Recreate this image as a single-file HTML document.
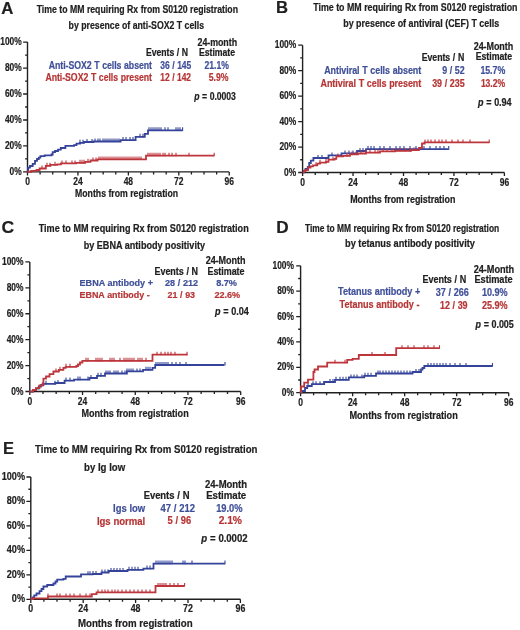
<!DOCTYPE html>
<html><head><meta charset="utf-8"><title>Figure</title>
<style>
html,body{margin:0;padding:0;background:#ffffff;}
body{width:520px;height:630px;overflow:hidden;}
svg{display:block;font-family:"Liberation Sans", sans-serif;filter:blur(0.3px);}
text{stroke:currentColor;stroke-width:0.2px;paint-order:stroke;}
</style></head>
<body>
<svg width="520" height="630" viewBox="0 0 520 630">
<rect width="520" height="630" fill="#ffffff"/>
<text x="1.30" y="13.50" font-size="16.5" fill="#202020" color="#202020" font-weight="bold" textLength="12.10" lengthAdjust="spacingAndGlyphs">A</text>
<text x="36.70" y="12.70" font-size="10.4" fill="#202020" color="#202020" font-weight="bold" textLength="201.30" lengthAdjust="spacingAndGlyphs">Time to MM requiring Rx from S0120 registration</text>
<text x="68.60" y="28.90" font-size="10.4" fill="#202020" color="#202020" font-weight="bold" textLength="135.40" lengthAdjust="spacingAndGlyphs">by presence of anti-SOX2 T cells</text>
<text x="197.50" y="45.50" font-size="10.0" fill="#202020" color="#202020" font-weight="bold" letter-spacing="-0.05" word-spacing="0.3" textLength="39.50" lengthAdjust="spacingAndGlyphs">24-month</text>
<text x="146.00" y="55.50" font-size="10.0" fill="#202020" color="#202020" font-weight="bold" letter-spacing="-0.05" word-spacing="0.3" textLength="42.00" lengthAdjust="spacingAndGlyphs">Events / N</text>
<text x="199.00" y="55.50" font-size="10.0" fill="#202020" color="#202020" font-weight="bold" letter-spacing="-0.05" word-spacing="0.3" textLength="36.00" lengthAdjust="spacingAndGlyphs">Estimate</text>
<text x="48.70" y="69.20" font-size="10.0" fill="#3f4f98" color="#3f4f98" font-weight="bold" letter-spacing="-0.05" word-spacing="0.3" textLength="103.30" lengthAdjust="spacingAndGlyphs">Anti-SOX2 T cells absent</text>
<text x="45.40" y="81.20" font-size="10.0" fill="#b63434" color="#b63434" font-weight="bold" letter-spacing="-0.05" word-spacing="0.3" textLength="106.60" lengthAdjust="spacingAndGlyphs">Anti-SOX2 T cells present</text>
<text x="160.30" y="69.00" font-size="10.0" fill="#3f4f98" color="#3f4f98" font-weight="bold" letter-spacing="-0.05" word-spacing="0.3" textLength="30.90" lengthAdjust="spacingAndGlyphs">36 / 145</text>
<text x="160.30" y="81.20" font-size="10.0" fill="#b63434" color="#b63434" font-weight="bold" letter-spacing="-0.05" word-spacing="0.3" textLength="30.70" lengthAdjust="spacingAndGlyphs">12 / 142</text>
<text x="204.60" y="69.00" font-size="10.0" fill="#3f4f98" color="#3f4f98" font-weight="bold" letter-spacing="-0.05" word-spacing="0.3" textLength="24.20" lengthAdjust="spacingAndGlyphs">21.1%</text>
<text x="208.80" y="81.20" font-size="10.0" fill="#b63434" color="#b63434" font-weight="bold" letter-spacing="-0.05" word-spacing="0.3" textLength="19.60" lengthAdjust="spacingAndGlyphs">5.9%</text>
<text x="194.20" y="100.00" font-size="10.0" fill="#202020" color="#202020" font-weight="bold" letter-spacing="-0.05" word-spacing="0.3" textLength="41.60" lengthAdjust="spacingAndGlyphs"><tspan font-style="italic">p</tspan> = 0.0003</text>
<path d="M27.50 42.10 V171.90 H229.25" stroke="#202020" stroke-width="1.4" fill="none"/>
<path d="M23.10 171.90H27.50M25.10 158.92H27.50M23.10 145.94H27.50M25.10 132.96H27.50M23.10 119.98H27.50M25.10 107.00H27.50M23.10 94.02H27.50M25.10 81.04H27.50M23.10 68.06H27.50M25.10 55.08H27.50M23.10 42.10H27.50M27.50 171.90V175.50M40.11 171.90V174.40M52.72 171.90V174.40M65.33 171.90V174.40M77.94 171.90V175.50M90.55 171.90V174.40M103.16 171.90V174.40M115.77 171.90V174.40M128.38 171.90V175.50M140.98 171.90V174.40M153.59 171.90V174.40M166.20 171.90V174.40M178.81 171.90V175.50M191.42 171.90V174.40M204.03 171.90V174.40M216.64 171.90V174.40M229.25 171.90V175.50" stroke="#202020" stroke-width="1.3" fill="none"/>
<text x="9.56" y="174.90" font-size="10.2" fill="#202020" color="#202020" font-weight="bold" textLength="12.14" lengthAdjust="spacingAndGlyphs">0%</text>
<text x="4.89" y="148.94" font-size="10.2" fill="#202020" color="#202020" font-weight="bold" textLength="16.81" lengthAdjust="spacingAndGlyphs">20%</text>
<text x="4.89" y="122.98" font-size="10.2" fill="#202020" color="#202020" font-weight="bold" textLength="16.81" lengthAdjust="spacingAndGlyphs">40%</text>
<text x="4.89" y="97.02" font-size="10.2" fill="#202020" color="#202020" font-weight="bold" textLength="16.81" lengthAdjust="spacingAndGlyphs">60%</text>
<text x="4.89" y="71.06" font-size="10.2" fill="#202020" color="#202020" font-weight="bold" textLength="16.81" lengthAdjust="spacingAndGlyphs">80%</text>
<text x="0.22" y="45.10" font-size="10.2" fill="#202020" color="#202020" font-weight="bold" textLength="21.48" lengthAdjust="spacingAndGlyphs">100%</text>
<text x="25.14" y="184.90" font-size="10.2" fill="#202020" color="#202020" font-weight="bold" textLength="4.73" lengthAdjust="spacingAndGlyphs">0</text>
<text x="73.21" y="184.90" font-size="10.2" fill="#202020" color="#202020" font-weight="bold" textLength="9.45" lengthAdjust="spacingAndGlyphs">24</text>
<text x="123.65" y="184.90" font-size="10.2" fill="#202020" color="#202020" font-weight="bold" textLength="9.45" lengthAdjust="spacingAndGlyphs">48</text>
<text x="174.09" y="184.90" font-size="10.2" fill="#202020" color="#202020" font-weight="bold" textLength="9.45" lengthAdjust="spacingAndGlyphs">72</text>
<text x="224.52" y="184.90" font-size="10.2" fill="#202020" color="#202020" font-weight="bold" textLength="9.45" lengthAdjust="spacingAndGlyphs">96</text>
<path d="M27.30 171.75H28.10V167.70H30.00V166.00H32.70V163.80H35.00V160.80H37.00V159.00H38.80V157.70H40.40V156.20H44.60V155.30H51.50V154.50H52.70V152.20H55.00V151.00H58.00V149.60H60.80V148.00H65.40V145.90H74.00V145.20H76.50V143.60H80.00V142.80H84.00V142.00H93.50V141.50H120.60V140.10H135.60V136.80H144.80V133.80H148.00V130.30H182.60" stroke="#35449a" stroke-width="1.8" fill="none"/>
<path d="M80.00 139.80V143.40M83.00 139.80V143.40M87.00 139.00V142.60M92.00 139.00V142.60M95.00 138.50V142.10M98.00 138.50V142.10M100.00 138.50V142.10M103.00 138.50V142.10M105.00 138.50V142.10M107.00 138.50V142.10M109.00 138.50V142.10M111.00 138.50V142.10M113.00 138.50V142.10M115.00 138.50V142.10M117.00 138.50V142.10M119.00 138.50V142.10M123.00 137.10V140.70M126.00 137.10V140.70M130.00 137.10V140.70M133.00 137.10V140.70M140.00 133.80V137.40M143.00 133.80V137.40M149.00 127.30V130.90M151.00 127.30V130.90M153.00 127.30V130.90M155.00 127.30V130.90M157.00 127.30V130.90M159.00 127.30V130.90M161.00 127.30V130.90M165.00 127.30V130.90M168.00 127.30V130.90M176.00 127.30V130.90M178.00 127.30V130.90M180.00 127.30V130.90M182.60 127.30V130.90" stroke="#35449a" stroke-width="1.1" fill="none"/>
<path d="M27.30 171.75H31.20V170.80H36.50V170.00H39.60V168.50H45.80V165.80H50.40V164.80H57.30V164.30H61.00V163.40H76.00V162.80H85.20V161.80H90.50V160.50H97.50V159.40H146.00V155.70H214.20" stroke="#bd363c" stroke-width="1.8" fill="none"/>
<path d="M42.00 165.50V169.10M47.00 162.80V166.40M50.00 162.80V166.40M55.00 161.80V165.40M62.00 160.40V164.00M66.00 160.40V164.00M72.00 160.40V164.00M75.00 160.40V164.00M80.00 159.80V163.40M82.00 159.80V163.40M84.00 159.80V163.40M88.00 158.80V162.40M93.00 157.50V161.10M96.00 157.50V161.10M99.00 156.40V160.00M101.00 156.40V160.00M103.00 156.40V160.00M105.00 156.40V160.00M107.00 156.40V160.00M109.00 156.40V160.00M111.00 156.40V160.00M113.00 156.40V160.00M115.00 156.40V160.00M117.00 156.40V160.00M119.00 156.40V160.00M121.00 156.40V160.00M123.00 156.40V160.00M125.00 156.40V160.00M127.00 156.40V160.00M129.00 156.40V160.00M131.00 156.40V160.00M133.00 156.40V160.00M135.00 156.40V160.00M137.00 156.40V160.00M139.00 156.40V160.00M141.00 156.40V160.00M148.00 152.70V156.30M150.00 152.70V156.30M152.00 152.70V156.30M154.00 152.70V156.30M156.00 152.70V156.30M158.00 152.70V156.30M160.00 152.70V156.30M163.00 152.70V156.30M165.00 152.70V156.30M169.00 152.70V156.30M172.00 152.70V156.30M176.00 152.70V156.30M189.00 152.70V156.30M214.20 152.70V156.30" stroke="#bd363c" stroke-width="1.1" fill="none"/>
<text x="276.00" y="13.30" font-size="16.5" fill="#202020" color="#202020" font-weight="bold" textLength="12.00" lengthAdjust="spacingAndGlyphs">B</text>
<text x="313.20" y="10.50" font-size="10.4" fill="#202020" color="#202020" font-weight="bold" textLength="204.30" lengthAdjust="spacingAndGlyphs">Time to MM requiring Rx from S0120 registration</text>
<text x="343.20" y="26.90" font-size="10.4" fill="#202020" color="#202020" font-weight="bold" textLength="156.00" lengthAdjust="spacingAndGlyphs">by presence of antiviral (CEF) T cells</text>
<text x="473.70" y="50.40" font-size="10.0" fill="#202020" color="#202020" font-weight="bold" letter-spacing="-0.05" word-spacing="0.3" textLength="39.50" lengthAdjust="spacingAndGlyphs">24-Month</text>
<text x="421.70" y="60.50" font-size="10.0" fill="#202020" color="#202020" font-weight="bold" letter-spacing="-0.05" word-spacing="0.3" textLength="42.50" lengthAdjust="spacingAndGlyphs">Events / N</text>
<text x="475.70" y="60.00" font-size="10.0" fill="#202020" color="#202020" font-weight="bold" letter-spacing="-0.05" word-spacing="0.3" textLength="36.30" lengthAdjust="spacingAndGlyphs">Estimate</text>
<text x="324.20" y="73.80" font-size="10.0" fill="#3f4f98" color="#3f4f98" font-weight="bold" letter-spacing="-0.05" word-spacing="0.3" textLength="97.00" lengthAdjust="spacingAndGlyphs">Antiviral T cells absent</text>
<text x="320.50" y="86.60" font-size="10.0" fill="#b63434" color="#b63434" font-weight="bold" letter-spacing="-0.05" word-spacing="0.3" textLength="100.70" lengthAdjust="spacingAndGlyphs">Antiviral T cells present</text>
<text x="442.20" y="74.00" font-size="10.0" fill="#3f4f98" color="#3f4f98" font-weight="bold" letter-spacing="-0.05" word-spacing="0.3" textLength="22.40" lengthAdjust="spacingAndGlyphs">9 / 52</text>
<text x="432.20" y="86.70" font-size="10.0" fill="#b63434" color="#b63434" font-weight="bold" letter-spacing="-0.05" word-spacing="0.3" textLength="32.40" lengthAdjust="spacingAndGlyphs">39 / 235</text>
<text x="480.40" y="74.00" font-size="10.0" fill="#3f4f98" color="#3f4f98" font-weight="bold" letter-spacing="-0.05" word-spacing="0.3" textLength="24.80" lengthAdjust="spacingAndGlyphs">15.7%</text>
<text x="480.90" y="86.70" font-size="10.0" fill="#b63434" color="#b63434" font-weight="bold" letter-spacing="-0.05" word-spacing="0.3" textLength="24.10" lengthAdjust="spacingAndGlyphs">13.2%</text>
<text x="478.10" y="105.50" font-size="10.0" fill="#202020" color="#202020" font-weight="bold" letter-spacing="-0.05" word-spacing="0.3" textLength="33.40" lengthAdjust="spacingAndGlyphs"><tspan font-style="italic">p</tspan> = 0.94</text>
<path d="M302.60 45.20 V172.50 H504.40" stroke="#202020" stroke-width="1.4" fill="none"/>
<path d="M298.20 172.50H302.60M300.20 159.77H302.60M298.20 147.04H302.60M300.20 134.31H302.60M298.20 121.58H302.60M300.20 108.85H302.60M298.20 96.12H302.60M300.20 83.39H302.60M298.20 70.66H302.60M300.20 57.93H302.60M298.20 45.20H302.60M302.60 172.50V176.10M315.21 172.50V175.00M327.83 172.50V175.00M340.44 172.50V175.00M353.05 172.50V176.10M365.66 172.50V175.00M378.27 172.50V175.00M390.89 172.50V175.00M403.50 172.50V176.10M416.11 172.50V175.00M428.73 172.50V175.00M441.34 172.50V175.00M453.95 172.50V176.10M466.56 172.50V175.00M479.17 172.50V175.00M491.79 172.50V175.00M504.40 172.50V176.10" stroke="#202020" stroke-width="1.3" fill="none"/>
<text x="284.06" y="175.50" font-size="10.2" fill="#202020" color="#202020" font-weight="bold" textLength="12.14" lengthAdjust="spacingAndGlyphs">0%</text>
<text x="279.39" y="150.04" font-size="10.2" fill="#202020" color="#202020" font-weight="bold" textLength="16.81" lengthAdjust="spacingAndGlyphs">20%</text>
<text x="279.39" y="124.58" font-size="10.2" fill="#202020" color="#202020" font-weight="bold" textLength="16.81" lengthAdjust="spacingAndGlyphs">40%</text>
<text x="279.39" y="99.12" font-size="10.2" fill="#202020" color="#202020" font-weight="bold" textLength="16.81" lengthAdjust="spacingAndGlyphs">60%</text>
<text x="279.39" y="73.66" font-size="10.2" fill="#202020" color="#202020" font-weight="bold" textLength="16.81" lengthAdjust="spacingAndGlyphs">80%</text>
<text x="274.72" y="48.20" font-size="10.2" fill="#202020" color="#202020" font-weight="bold" textLength="21.48" lengthAdjust="spacingAndGlyphs">100%</text>
<text x="300.24" y="185.50" font-size="10.2" fill="#202020" color="#202020" font-weight="bold" textLength="4.73" lengthAdjust="spacingAndGlyphs">0</text>
<text x="348.32" y="185.50" font-size="10.2" fill="#202020" color="#202020" font-weight="bold" textLength="9.45" lengthAdjust="spacingAndGlyphs">24</text>
<text x="398.77" y="185.50" font-size="10.2" fill="#202020" color="#202020" font-weight="bold" textLength="9.45" lengthAdjust="spacingAndGlyphs">48</text>
<text x="449.22" y="185.50" font-size="10.2" fill="#202020" color="#202020" font-weight="bold" textLength="9.45" lengthAdjust="spacingAndGlyphs">72</text>
<text x="499.67" y="185.50" font-size="10.2" fill="#202020" color="#202020" font-weight="bold" textLength="9.45" lengthAdjust="spacingAndGlyphs">96</text>
<path d="M302.60 172.30H303.80V170.80H305.50V169.00H307.70V166.90H309.20V163.00H310.80V160.60H313.40V158.00H328.50V155.40H341.50V153.40H357.00V151.00H366.00V149.10H448.75" stroke="#35449a" stroke-width="1.8" fill="none"/>
<path d="M318.00 155.00V158.60M322.00 155.00V158.60M332.00 152.40V156.00M345.00 150.40V154.00M349.00 150.40V154.00M353.00 150.40V154.00M360.00 148.00V151.60M363.00 148.00V151.60M368.00 146.10V149.70M371.00 146.10V149.70M374.00 146.10V149.70M380.00 146.10V149.70M384.00 146.10V149.70M390.00 146.10V149.70M396.00 146.10V149.70M400.00 146.10V149.70M404.00 146.10V149.70M410.00 146.10V149.70M416.00 146.10V149.70M424.00 146.10V149.70M430.00 146.10V149.70M436.00 146.10V149.70M440.00 146.10V149.70M444.00 146.10V149.70M448.75 146.10V149.70" stroke="#35449a" stroke-width="1.1" fill="none"/>
<path d="M302.60 172.30H304.00V171.20H305.00V170.10H308.00V167.50H310.50V166.30H313.00V165.30H317.30V163.60H320.00V162.70H326.00V161.90H328.50V159.70H334.60V158.80H336.30V156.40H343.00V155.90H350.00V154.40H358.00V153.50H366.00V152.70H380.00V151.40H395.00V150.90H411.00V150.20H419.00V148.00H422.00V143.50H424.60V142.40H489.25" stroke="#bd363c" stroke-width="1.8" fill="none"/>
<path d="M316.00 162.30V165.90M320.00 159.70V163.30M326.00 158.90V162.50M333.00 156.70V160.30M338.00 153.40V157.00M347.00 152.90V156.50M352.00 151.40V155.00M356.00 151.40V155.00M361.00 150.50V154.10M366.00 149.70V153.30M370.00 149.70V153.30M375.00 149.70V153.30M378.00 149.70V153.30M383.00 148.40V152.00M387.00 148.40V152.00M392.00 148.40V152.00M396.00 147.90V151.50M400.00 147.90V151.50M405.00 147.90V151.50M410.00 147.90V151.50M414.00 147.20V150.80M425.00 139.40V143.00M428.00 139.40V143.00M431.00 139.40V143.00M435.00 139.40V143.00M439.00 139.40V143.00M442.00 139.40V143.00M446.00 139.40V143.00M452.00 139.40V143.00M458.00 139.40V143.00M463.00 139.40V143.00M470.00 139.40V143.00M489.25 139.40V143.00" stroke="#bd363c" stroke-width="1.1" fill="none"/>
<text x="1.60" y="232.80" font-size="16.5" fill="#202020" color="#202020" font-weight="bold" textLength="12.70" lengthAdjust="spacingAndGlyphs">C</text>
<text x="38.70" y="231.70" font-size="10.4" fill="#202020" color="#202020" font-weight="bold" textLength="210.00" lengthAdjust="spacingAndGlyphs">Time to MM requiring Rx from S0120 registration</text>
<text x="83.70" y="249.10" font-size="10.4" fill="#202020" color="#202020" font-weight="bold" textLength="121.30" lengthAdjust="spacingAndGlyphs">by EBNA antibody positivity</text>
<text x="205.70" y="264.30" font-size="10.0" fill="#202020" color="#202020" font-weight="bold" letter-spacing="-0.05" word-spacing="0.3" textLength="39.80" lengthAdjust="spacingAndGlyphs">24-Month</text>
<text x="154.50" y="274.50" font-size="10.0" fill="#202020" color="#202020" font-weight="bold" letter-spacing="-0.05" word-spacing="0.3" textLength="43.50" lengthAdjust="spacingAndGlyphs">Events / N</text>
<text x="207.50" y="274.50" font-size="10.0" fill="#202020" color="#202020" font-weight="bold" letter-spacing="-0.05" word-spacing="0.3" textLength="37.00" lengthAdjust="spacingAndGlyphs">Estimate</text>
<text x="79.60" y="286.40" font-size="9.8" fill="#3f4f98" color="#3f4f98" font-weight="bold" letter-spacing="-0.05" word-spacing="0.3" textLength="73.50" lengthAdjust="spacingAndGlyphs">EBNA antibody +</text>
<text x="79.60" y="297.90" font-size="9.8" fill="#b63434" color="#b63434" font-weight="bold" letter-spacing="-0.05" word-spacing="0.3" textLength="70.20" lengthAdjust="spacingAndGlyphs">EBNA antibody -</text>
<text x="165.00" y="286.40" font-size="9.8" fill="#3f4f98" color="#3f4f98" font-weight="bold" letter-spacing="-0.05" word-spacing="0.3" textLength="33.00" lengthAdjust="spacingAndGlyphs">28 / 212</text>
<text x="167.50" y="297.90" font-size="9.8" fill="#b63434" color="#b63434" font-weight="bold" letter-spacing="-0.05" word-spacing="0.3" textLength="27.50" lengthAdjust="spacingAndGlyphs">21 / 93</text>
<text x="216.20" y="286.40" font-size="9.8" fill="#3f4f98" color="#3f4f98" font-weight="bold" letter-spacing="-0.05" word-spacing="0.3" textLength="20.80" lengthAdjust="spacingAndGlyphs">8.7%</text>
<text x="214.50" y="297.90" font-size="9.8" fill="#b63434" color="#b63434" font-weight="bold" letter-spacing="-0.05" word-spacing="0.3" textLength="25.50" lengthAdjust="spacingAndGlyphs">22.6%</text>
<text x="215.00" y="315.00" font-size="10.0" fill="#202020" color="#202020" font-weight="bold" letter-spacing="-0.05" word-spacing="0.3" textLength="33.70" lengthAdjust="spacingAndGlyphs"><tspan font-style="italic">p</tspan> = 0.04</text>
<path d="M29.80 261.90 V391.50 H240.70" stroke="#202020" stroke-width="1.4" fill="none"/>
<path d="M25.40 391.50H29.80M27.40 378.54H29.80M25.40 365.58H29.80M27.40 352.62H29.80M25.40 339.66H29.80M27.40 326.70H29.80M25.40 313.74H29.80M27.40 300.78H29.80M25.40 287.82H29.80M27.40 274.86H29.80M25.40 261.90H29.80M29.80 391.50V395.10M42.98 391.50V394.00M56.16 391.50V394.00M69.34 391.50V394.00M82.52 391.50V395.10M95.71 391.50V394.00M108.89 391.50V394.00M122.07 391.50V394.00M135.25 391.50V395.10M148.43 391.50V394.00M161.61 391.50V394.00M174.79 391.50V394.00M187.97 391.50V395.10M201.16 391.50V394.00M214.34 391.50V394.00M227.52 391.50V394.00M240.70 391.50V395.10" stroke="#202020" stroke-width="1.3" fill="none"/>
<text x="11.36" y="394.50" font-size="10.2" fill="#202020" color="#202020" font-weight="bold" textLength="12.14" lengthAdjust="spacingAndGlyphs">0%</text>
<text x="6.69" y="368.58" font-size="10.2" fill="#202020" color="#202020" font-weight="bold" textLength="16.81" lengthAdjust="spacingAndGlyphs">20%</text>
<text x="6.69" y="342.66" font-size="10.2" fill="#202020" color="#202020" font-weight="bold" textLength="16.81" lengthAdjust="spacingAndGlyphs">40%</text>
<text x="6.69" y="316.74" font-size="10.2" fill="#202020" color="#202020" font-weight="bold" textLength="16.81" lengthAdjust="spacingAndGlyphs">60%</text>
<text x="6.69" y="290.82" font-size="10.2" fill="#202020" color="#202020" font-weight="bold" textLength="16.81" lengthAdjust="spacingAndGlyphs">80%</text>
<text x="2.02" y="264.90" font-size="10.2" fill="#202020" color="#202020" font-weight="bold" textLength="21.48" lengthAdjust="spacingAndGlyphs">100%</text>
<text x="27.44" y="404.50" font-size="10.2" fill="#202020" color="#202020" font-weight="bold" textLength="4.73" lengthAdjust="spacingAndGlyphs">0</text>
<text x="77.80" y="404.50" font-size="10.2" fill="#202020" color="#202020" font-weight="bold" textLength="9.45" lengthAdjust="spacingAndGlyphs">24</text>
<text x="130.52" y="404.50" font-size="10.2" fill="#202020" color="#202020" font-weight="bold" textLength="9.45" lengthAdjust="spacingAndGlyphs">48</text>
<text x="183.25" y="404.50" font-size="10.2" fill="#202020" color="#202020" font-weight="bold" textLength="9.45" lengthAdjust="spacingAndGlyphs">72</text>
<text x="235.97" y="404.50" font-size="10.2" fill="#202020" color="#202020" font-weight="bold" textLength="9.45" lengthAdjust="spacingAndGlyphs">96</text>
<path d="M29.50 391.60H33.00V390.00H36.00V388.50H38.75V386.50H41.00V385.00H43.40V383.80H55.30V383.00H64.60V380.60H74.00V379.60H89.50V378.00H97.00V375.80H105.00V373.50H126.90V371.40H143.00V369.80H152.50V367.90H155.20V365.00H224.40" stroke="#35449a" stroke-width="1.8" fill="none"/>
<path d="M46.00 380.80V384.40M55.00 380.80V384.40M58.00 380.00V383.60M66.00 377.60V381.20M70.00 377.60V381.20M78.00 376.60V380.20M80.00 376.60V380.20M88.00 376.60V380.20M91.00 375.00V378.60M98.00 372.80V376.40M101.00 372.80V376.40M106.00 370.50V374.10M108.00 370.50V374.10M110.00 370.50V374.10M114.00 370.50V374.10M116.00 370.50V374.10M118.00 370.50V374.10M122.00 370.50V374.10M125.00 370.50V374.10M127.00 368.40V372.00M129.00 368.40V372.00M131.00 368.40V372.00M133.00 368.40V372.00M137.00 368.40V372.00M140.00 368.40V372.00M146.00 366.80V370.40M148.00 366.80V370.40M150.00 366.80V370.40M156.00 362.00V365.60M158.00 362.00V365.60M160.00 362.00V365.60M162.00 362.00V365.60M164.00 362.00V365.60M166.00 362.00V365.60M168.00 362.00V365.60M172.00 362.00V365.60M176.00 362.00V365.60M180.00 362.00V365.60M186.00 362.00V365.60M225.00 362.00V365.60" stroke="#35449a" stroke-width="1.1" fill="none"/>
<path d="M29.50 391.60H33.00V390.00H36.00V388.20H39.50V385.50H42.60V383.50H43.40V378.60H46.00V376.50H49.50V374.20H53.40V371.50H58.80V369.80H63.40V367.80H65.70V366.80H76.40V366.00H78.00V364.50H80.00V362.50H82.40V360.80H152.50V354.70H187.50" stroke="#bd363c" stroke-width="1.8" fill="none"/>
<path d="M56.00 368.50V372.10M60.00 366.80V370.40M66.00 363.80V367.40M70.00 363.80V367.40M86.00 357.80V361.40M88.00 357.80V361.40M96.00 357.80V361.40M98.00 357.80V361.40M100.00 357.80V361.40M102.00 357.80V361.40M110.00 357.80V361.40M112.00 357.80V361.40M114.00 357.80V361.40M120.00 357.80V361.40M124.00 357.80V361.40M126.00 357.80V361.40M128.00 357.80V361.40M130.00 357.80V361.40M132.00 357.80V361.40M134.00 357.80V361.40M138.00 357.80V361.40M140.00 357.80V361.40M142.00 357.80V361.40M146.00 357.80V361.40M157.00 351.70V355.30M161.00 351.70V355.30M165.00 351.70V355.30M168.00 351.70V355.30M171.00 351.70V355.30M175.00 351.70V355.30M187.00 351.70V355.30" stroke="#bd363c" stroke-width="1.1" fill="none"/>
<text x="276.20" y="233.30" font-size="16.5" fill="#202020" color="#202020" font-weight="bold" textLength="12.40" lengthAdjust="spacingAndGlyphs">D</text>
<text x="305.00" y="231.70" font-size="10.0" fill="#202020" color="#202020" font-weight="bold" textLength="194.20" lengthAdjust="spacingAndGlyphs">Time to MM requiring Rx from S0120 registration</text>
<text x="345.00" y="247.10" font-size="10.0" fill="#202020" color="#202020" font-weight="bold" textLength="130.00" lengthAdjust="spacingAndGlyphs">by tetanus antibody positivity</text>
<text x="473.70" y="272.50" font-size="10.0" fill="#202020" color="#202020" font-weight="bold" letter-spacing="-0.05" word-spacing="0.3" textLength="40.50" lengthAdjust="spacingAndGlyphs">24-Month</text>
<text x="422.50" y="282.50" font-size="10.0" fill="#202020" color="#202020" font-weight="bold" letter-spacing="-0.05" word-spacing="0.3" textLength="43.70" lengthAdjust="spacingAndGlyphs">Events / N</text>
<text x="474.50" y="282.50" font-size="10.0" fill="#202020" color="#202020" font-weight="bold" letter-spacing="-0.05" word-spacing="0.3" textLength="38.00" lengthAdjust="spacingAndGlyphs">Estimate</text>
<text x="338.10" y="295.00" font-size="10.0" fill="#3f4f98" color="#3f4f98" font-weight="bold" letter-spacing="-0.05" word-spacing="0.3" textLength="82.30" lengthAdjust="spacingAndGlyphs">Tetanus antibody +</text>
<text x="339.60" y="308.10" font-size="10.0" fill="#b63434" color="#b63434" font-weight="bold" letter-spacing="-0.05" word-spacing="0.3" textLength="79.80" lengthAdjust="spacingAndGlyphs">Tetanus antibody -</text>
<text x="435.70" y="295.50" font-size="10.0" fill="#3f4f98" color="#3f4f98" font-weight="bold" letter-spacing="-0.05" word-spacing="0.3" textLength="33.00" lengthAdjust="spacingAndGlyphs">37 / 266</text>
<text x="440.00" y="308.70" font-size="10.0" fill="#b63434" color="#b63434" font-weight="bold" letter-spacing="-0.05" word-spacing="0.3" textLength="27.50" lengthAdjust="spacingAndGlyphs">12 / 39</text>
<text x="482.00" y="295.50" font-size="10.0" fill="#3f4f98" color="#3f4f98" font-weight="bold" letter-spacing="-0.05" word-spacing="0.3" textLength="25.50" lengthAdjust="spacingAndGlyphs">10.9%</text>
<text x="482.00" y="308.70" font-size="10.0" fill="#b63434" color="#b63434" font-weight="bold" letter-spacing="-0.05" word-spacing="0.3" textLength="25.50" lengthAdjust="spacingAndGlyphs">25.9%</text>
<text x="475.50" y="327.50" font-size="10.0" fill="#202020" color="#202020" font-weight="bold" letter-spacing="-0.05" word-spacing="0.3" textLength="38.20" lengthAdjust="spacingAndGlyphs"><tspan font-style="italic">p</tspan> = 0.005</text>
<path d="M300.60 265.80 V392.70 H508.70" stroke="#202020" stroke-width="1.4" fill="none"/>
<path d="M296.20 392.70H300.60M298.20 380.01H300.60M296.20 367.32H300.60M298.20 354.63H300.60M296.20 341.94H300.60M298.20 329.25H300.60M296.20 316.56H300.60M298.20 303.87H300.60M296.20 291.18H300.60M298.20 278.49H300.60M296.20 265.80H300.60M300.60 392.70V396.30M313.61 392.70V395.20M326.61 392.70V395.20M339.62 392.70V395.20M352.62 392.70V396.30M365.63 392.70V395.20M378.64 392.70V395.20M391.64 392.70V395.20M404.65 392.70V396.30M417.66 392.70V395.20M430.66 392.70V395.20M443.67 392.70V395.20M456.68 392.70V396.30M469.68 392.70V395.20M482.69 392.70V395.20M495.69 392.70V395.20M508.70 392.70V396.30" stroke="#202020" stroke-width="1.3" fill="none"/>
<text x="281.86" y="395.70" font-size="10.2" fill="#202020" color="#202020" font-weight="bold" textLength="12.14" lengthAdjust="spacingAndGlyphs">0%</text>
<text x="277.19" y="370.32" font-size="10.2" fill="#202020" color="#202020" font-weight="bold" textLength="16.81" lengthAdjust="spacingAndGlyphs">20%</text>
<text x="277.19" y="344.94" font-size="10.2" fill="#202020" color="#202020" font-weight="bold" textLength="16.81" lengthAdjust="spacingAndGlyphs">40%</text>
<text x="277.19" y="319.56" font-size="10.2" fill="#202020" color="#202020" font-weight="bold" textLength="16.81" lengthAdjust="spacingAndGlyphs">60%</text>
<text x="277.19" y="294.18" font-size="10.2" fill="#202020" color="#202020" font-weight="bold" textLength="16.81" lengthAdjust="spacingAndGlyphs">80%</text>
<text x="272.52" y="268.80" font-size="10.2" fill="#202020" color="#202020" font-weight="bold" textLength="21.48" lengthAdjust="spacingAndGlyphs">100%</text>
<text x="298.24" y="405.70" font-size="10.2" fill="#202020" color="#202020" font-weight="bold" textLength="4.73" lengthAdjust="spacingAndGlyphs">0</text>
<text x="347.90" y="405.70" font-size="10.2" fill="#202020" color="#202020" font-weight="bold" textLength="9.45" lengthAdjust="spacingAndGlyphs">24</text>
<text x="399.92" y="405.70" font-size="10.2" fill="#202020" color="#202020" font-weight="bold" textLength="9.45" lengthAdjust="spacingAndGlyphs">48</text>
<text x="451.95" y="405.70" font-size="10.2" fill="#202020" color="#202020" font-weight="bold" textLength="9.45" lengthAdjust="spacingAndGlyphs">72</text>
<text x="503.97" y="405.70" font-size="10.2" fill="#202020" color="#202020" font-weight="bold" textLength="9.45" lengthAdjust="spacingAndGlyphs">96</text>
<path d="M299.80 392.30H301.80V391.00H305.00V388.00H307.20V386.00H311.80V384.20H324.20V382.00H335.00V379.80H348.80V377.40H364.20V375.80H376.00V373.50H412.50V372.00H421.00V369.50H422.50V368.00H424.30V366.00H492.50" stroke="#35449a" stroke-width="1.8" fill="none"/>
<path d="M308.00 383.00V386.60M313.00 381.20V384.80M316.00 381.20V384.80M320.00 381.20V384.80M324.00 381.20V384.80M330.00 379.00V382.60M333.00 379.00V382.60M336.00 376.80V380.40M340.00 376.80V380.40M343.00 376.80V380.40M346.00 376.80V380.40M351.00 374.40V378.00M354.00 374.40V378.00M357.00 374.40V378.00M362.00 374.40V378.00M365.00 372.80V376.40M368.00 372.80V376.40M371.00 372.80V376.40M378.00 370.50V374.10M380.00 370.50V374.10M383.00 370.50V374.10M386.00 370.50V374.10M389.00 370.50V374.10M392.00 370.50V374.10M395.00 370.50V374.10M398.00 370.50V374.10M401.00 370.50V374.10M404.00 370.50V374.10M407.00 370.50V374.10M410.00 370.50V374.10M416.00 369.00V372.60M419.00 369.00V372.60M428.00 363.00V366.60M431.00 363.00V366.60M434.00 363.00V366.60M437.00 363.00V366.60M440.00 363.00V366.60M443.00 363.00V366.60M446.00 363.00V366.60M450.00 363.00V366.60M455.00 363.00V366.60M460.00 363.00V366.60M466.00 363.00V366.60M492.50 363.00V366.60" stroke="#35449a" stroke-width="1.1" fill="none"/>
<path d="M299.80 392.30H301.00V386.50H304.20V382.70H308.00V379.60H313.40V372.00H314.50V369.50H318.00V366.50H327.20V362.70H347.20V359.80H352.60V358.80H358.80V355.00H396.20V348.20H439.50" stroke="#bd363c" stroke-width="1.8" fill="none"/>
<path d="M335.00 359.70V363.30M345.00 359.70V363.30M372.00 352.00V355.60M385.00 352.00V355.60M402.00 345.20V348.80M408.00 345.20V348.80M414.00 345.20V348.80M424.00 345.20V348.80M428.00 345.20V348.80M434.00 345.20V348.80M439.50 345.20V348.80" stroke="#bd363c" stroke-width="1.1" fill="none"/>
<text x="3.00" y="453.50" font-size="16.5" fill="#202020" color="#202020" font-weight="bold" textLength="11.00" lengthAdjust="spacingAndGlyphs">E</text>
<text x="35.00" y="452.50" font-size="10.8" fill="#202020" color="#202020" font-weight="bold" textLength="222.50" lengthAdjust="spacingAndGlyphs">Time to MM requiring Rx from S0120 registration</text>
<text x="84.00" y="471.30" font-size="10.8" fill="#202020" color="#202020" font-weight="bold" textLength="41.20" lengthAdjust="spacingAndGlyphs">by Ig low</text>
<text x="205.00" y="488.10" font-size="10.4" fill="#202020" color="#202020" font-weight="bold" letter-spacing="-0.05" word-spacing="0.3" textLength="42.00" lengthAdjust="spacingAndGlyphs">24-Month</text>
<text x="143.70" y="498.50" font-size="10.4" fill="#202020" color="#202020" font-weight="bold" letter-spacing="-0.05" word-spacing="0.3" textLength="45.80" lengthAdjust="spacingAndGlyphs">Events / N</text>
<text x="206.20" y="498.50" font-size="10.4" fill="#202020" color="#202020" font-weight="bold" letter-spacing="-0.05" word-spacing="0.3" textLength="40.00" lengthAdjust="spacingAndGlyphs">Estimate</text>
<text x="113.10" y="511.70" font-size="10.4" fill="#3f4f98" color="#3f4f98" font-weight="bold" letter-spacing="-0.05" word-spacing="0.3" textLength="32.00" lengthAdjust="spacingAndGlyphs">Igs low</text>
<text x="96.90" y="524.70" font-size="10.4" fill="#b63434" color="#b63434" font-weight="bold" letter-spacing="-0.05" word-spacing="0.3" textLength="48.20" lengthAdjust="spacingAndGlyphs">Igs normal</text>
<text x="160.50" y="511.90" font-size="10.4" fill="#3f4f98" color="#3f4f98" font-weight="bold" letter-spacing="-0.05" word-spacing="0.3" textLength="34.50" lengthAdjust="spacingAndGlyphs">47 / 212</text>
<text x="167.50" y="524.40" font-size="10.4" fill="#b63434" color="#b63434" font-weight="bold" letter-spacing="-0.05" word-spacing="0.3" textLength="23.70" lengthAdjust="spacingAndGlyphs">5 / 96</text>
<text x="216.20" y="511.90" font-size="10.4" fill="#3f4f98" color="#3f4f98" font-weight="bold" letter-spacing="-0.05" word-spacing="0.3" textLength="26.30" lengthAdjust="spacingAndGlyphs">19.0%</text>
<text x="218.70" y="524.40" font-size="10.4" fill="#b63434" color="#b63434" font-weight="bold" letter-spacing="-0.05" word-spacing="0.3" textLength="23.30" lengthAdjust="spacingAndGlyphs">2.1%</text>
<text x="201.20" y="542.00" font-size="10.4" fill="#202020" color="#202020" font-weight="bold" letter-spacing="-0.05" word-spacing="0.3" textLength="46.30" lengthAdjust="spacingAndGlyphs"><tspan font-style="italic">p</tspan> = 0.0002</text>
<path d="M30.80 477.00 V599.30 H240.40" stroke="#202020" stroke-width="1.4" fill="none"/>
<path d="M26.40 599.30H30.80M28.40 587.07H30.80M26.40 574.84H30.80M28.40 562.61H30.80M26.40 550.38H30.80M28.40 538.15H30.80M26.40 525.92H30.80M28.40 513.69H30.80M26.40 501.46H30.80M28.40 489.23H30.80M26.40 477.00H30.80M30.80 599.30V602.90M43.90 599.30V601.80M57.00 599.30V601.80M70.10 599.30V601.80M83.20 599.30V602.90M96.30 599.30V601.80M109.40 599.30V601.80M122.50 599.30V601.80M135.60 599.30V602.90M148.70 599.30V601.80M161.80 599.30V601.80M174.90 599.30V601.80M188.00 599.30V602.90M201.10 599.30V601.80M214.20 599.30V601.80M227.30 599.30V601.80M240.40 599.30V602.90" stroke="#202020" stroke-width="1.3" fill="none"/>
<text x="11.85" y="602.30" font-size="10.2" fill="#202020" color="#202020" font-weight="bold" textLength="13.15" lengthAdjust="spacingAndGlyphs">0%</text>
<text x="6.79" y="577.84" font-size="10.2" fill="#202020" color="#202020" font-weight="bold" textLength="18.21" lengthAdjust="spacingAndGlyphs">20%</text>
<text x="6.79" y="553.38" font-size="10.2" fill="#202020" color="#202020" font-weight="bold" textLength="18.21" lengthAdjust="spacingAndGlyphs">40%</text>
<text x="6.79" y="528.92" font-size="10.2" fill="#202020" color="#202020" font-weight="bold" textLength="18.21" lengthAdjust="spacingAndGlyphs">60%</text>
<text x="6.79" y="504.46" font-size="10.2" fill="#202020" color="#202020" font-weight="bold" textLength="18.21" lengthAdjust="spacingAndGlyphs">80%</text>
<text x="1.73" y="480.00" font-size="10.2" fill="#202020" color="#202020" font-weight="bold" textLength="23.27" lengthAdjust="spacingAndGlyphs">100%</text>
<text x="28.35" y="612.30" font-size="10.4" fill="#202020" color="#202020" font-weight="bold" textLength="4.89" lengthAdjust="spacingAndGlyphs">0</text>
<text x="78.31" y="612.30" font-size="10.4" fill="#202020" color="#202020" font-weight="bold" textLength="9.79" lengthAdjust="spacingAndGlyphs">24</text>
<text x="130.71" y="612.30" font-size="10.4" fill="#202020" color="#202020" font-weight="bold" textLength="9.79" lengthAdjust="spacingAndGlyphs">48</text>
<text x="183.11" y="612.30" font-size="10.4" fill="#202020" color="#202020" font-weight="bold" textLength="9.79" lengthAdjust="spacingAndGlyphs">72</text>
<text x="235.51" y="612.30" font-size="10.4" fill="#202020" color="#202020" font-weight="bold" textLength="9.79" lengthAdjust="spacingAndGlyphs">96</text>
<path d="M30.70 599.00H32.50V597.50H34.20V595.30H36.50V593.50H39.50V591.20H41.50V589.00H43.40V586.50H47.20V585.00H53.40V583.50H55.50V581.50H57.20V579.60H63.40V578.80H65.70V576.50H81.00V574.30H92.60V574.00H101.50V572.50H108.70V571.00H127.50V569.80H143.40V568.60H153.50V563.60H225.00" stroke="#35449a" stroke-width="1.8" fill="none"/>
<path d="M88.00 571.30V574.90M90.00 571.30V574.90M93.00 571.00V574.60M96.00 571.00V574.60M102.00 569.50V573.10M105.00 569.50V573.10M108.00 569.50V573.10M111.00 568.00V571.60M114.00 568.00V571.60M117.00 568.00V571.60M120.00 568.00V571.60M123.00 568.00V571.60M129.00 566.80V570.40M132.00 566.80V570.40M135.00 566.80V570.40M138.00 566.80V570.40M147.00 565.60V569.20M150.00 565.60V569.20M156.00 560.60V564.20M158.00 560.60V564.20M160.00 560.60V564.20M162.00 560.60V564.20M164.00 560.60V564.20M166.00 560.60V564.20M168.00 560.60V564.20M170.00 560.60V564.20M172.00 560.60V564.20M183.00 560.60V564.20M185.00 560.60V564.20M192.00 560.60V564.20M225.00 560.60V564.20" stroke="#35449a" stroke-width="1.1" fill="none"/>
<path d="M30.70 599.00H33.00V598.30H48.00V596.50H91.80V594.20H96.50V592.40H155.50V586.00H184.60" stroke="#bd363c" stroke-width="1.8" fill="none"/>
<path d="M48.00 593.50V597.10M57.00 593.50V597.10M60.00 593.50V597.10M66.00 593.50V597.10M70.00 593.50V597.10M74.00 593.50V597.10M80.00 593.50V597.10M86.00 593.50V597.10M90.00 593.50V597.10M98.00 589.40V593.00M102.00 589.40V593.00M105.00 589.40V593.00M108.00 589.40V593.00M112.00 589.40V593.00M115.00 589.40V593.00M118.00 589.40V593.00M122.00 589.40V593.00M126.00 589.40V593.00M130.00 589.40V593.00M134.00 589.40V593.00M138.00 589.40V593.00M142.00 589.40V593.00M146.00 589.40V593.00M150.00 589.40V593.00M158.00 583.00V586.60M160.00 583.00V586.60M162.00 583.00V586.60M164.00 583.00V586.60M166.00 583.00V586.60M170.00 583.00V586.60M174.00 583.00V586.60M178.00 583.00V586.60M184.60 583.00V586.60" stroke="#bd363c" stroke-width="1.1" fill="none"/>
<text x="75.00" y="197.10" font-size="10.4" fill="#202020" color="#202020" font-weight="bold" textLength="103.20" lengthAdjust="spacingAndGlyphs">Months from registration</text>
<text x="350.20" y="202.90" font-size="10.4" fill="#202020" color="#202020" font-weight="bold" textLength="105.20" lengthAdjust="spacingAndGlyphs">Months from registration</text>
<text x="81.50" y="416.70" font-size="10.4" fill="#202020" color="#202020" font-weight="bold" textLength="107.20" lengthAdjust="spacingAndGlyphs">Months from registration</text>
<text x="349.40" y="418.80" font-size="10.4" fill="#202020" color="#202020" font-weight="bold" textLength="108.40" lengthAdjust="spacingAndGlyphs">Months from registration</text>
<text x="77.90" y="626.60" font-size="10.8" fill="#202020" color="#202020" font-weight="bold" textLength="114.70" lengthAdjust="spacingAndGlyphs">Months from registration</text>
</svg>
</body></html>
